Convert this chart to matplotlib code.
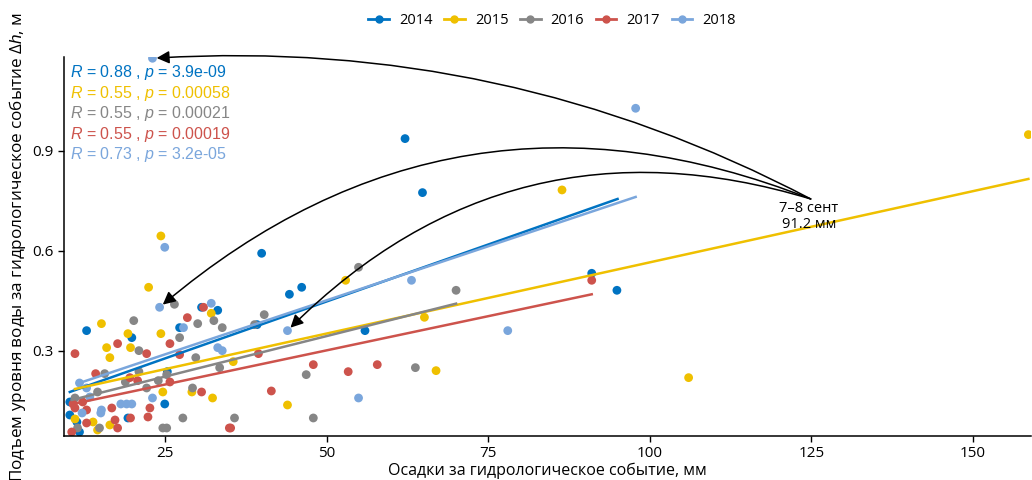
import numpy as np
import matplotlib
matplotlib.use('Agg')
import matplotlib.pyplot as plt
from matplotlib.lines import Line2D

plt.rcParams['font.family'] = ['Open Sans', 'DejaVu Sans']
plt.rcParams['mathtext.fontset'] = 'custom'
plt.rcParams['mathtext.rm'] = 'Liberation Sans'
plt.rcParams['mathtext.it'] = 'Liberation Sans:italic'

years = ['2014', '2015', '2016', '2017', '2018']
colors = ['#0073C2', '#EFC000', '#868686', '#CD534C', '#7AA6DC']

# осадки (мм) и подъем уровня (м) по годам
x_2014 = [62.1, 64.8, 39.9, 46.1, 44.2, 91.0, 94.9, 55.9, 30.6, 33.1, 12.8, 19.8, 27.2,
          25.3, 24.9, 19.2, 10.2, 10.2, 11.3, 11.7, 39.2]
y_2014 = [0.936, 0.774, 0.592, 0.490, 0.469, 0.532, 0.481, 0.360, 0.430, 0.421, 0.360, 0.339, 0.369,
          0.237, 0.140, 0.098, 0.107, 0.146, 0.086, 0.056, 0.378]

x_2015 = [158.6, 86.4, 24.3, 52.9, 22.4, 65.1, 66.9, 106.0, 43.9, 32.3, 32.1, 15.1, 19.2, 24.3,
          15.9, 16.4, 19.6, 35.5, 24.6, 29.1, 16.4, 14.5, 13.8, 11.0]
y_2015 = [0.948, 0.782, 0.644, 0.511, 0.490, 0.400, 0.240, 0.219, 0.137, 0.158, 0.412, 0.381, 0.351, 0.351,
          0.309, 0.279, 0.309, 0.267, 0.176, 0.176, 0.077, 0.062, 0.086, 0.095]

x_2016 = [54.9, 70.0, 63.7, 46.8, 47.9, 35.7, 26.4, 20.1, 30.0, 32.5, 33.8, 27.2, 38.8, 40.3,
          20.9, 29.7, 33.4, 15.6, 20.9, 25.2, 23.9, 29.2, 14.5, 11.0, 27.7, 24.6, 25.2,
          11.4, 14.8, 22.1, 18.8]
y_2016 = [0.550, 0.481, 0.249, 0.228, 0.098, 0.098, 0.439, 0.390, 0.381, 0.390, 0.369, 0.339, 0.378, 0.408,
          0.300, 0.279, 0.249, 0.231, 0.237, 0.228, 0.210, 0.188, 0.176, 0.158, 0.098, 0.068, 0.068,
          0.068, 0.068, 0.188, 0.206]

x_2017 = [91.0, 47.9, 53.3, 57.8, 41.4, 34.9, 30.6, 30.9, 28.4, 25.7, 11.0, 17.6, 22.1, 27.2,
          39.4, 14.2, 19.5, 20.7, 25.7, 12.2, 11.0, 12.8, 16.7, 17.2, 17.6, 22.3, 22.6,
          12.8, 10.5, 35.1, 19.6, 10.7]
y_2017 = [0.511, 0.258, 0.237, 0.258, 0.179, 0.068, 0.176, 0.430, 0.399, 0.321, 0.291, 0.321, 0.291, 0.288,
          0.291, 0.231, 0.219, 0.210, 0.206, 0.146, 0.128, 0.122, 0.128, 0.092, 0.068, 0.101, 0.128,
          0.083, 0.056, 0.068, 0.098, 0.140]

x_2018 = [23.0, 97.8, 24.9, 63.1, 24.1, 43.9, 78.0, 54.9, 32.1, 27.8, 33.1, 33.8, 23.0,
          18.1, 19.0, 19.8, 15.1, 15.0, 12.1, 13.3, 12.8, 11.7]
y_2018 = [1.177, 1.027, 0.610, 0.511, 0.430, 0.360, 0.360, 0.158, 0.442, 0.369, 0.309, 0.300, 0.158,
          0.140, 0.140, 0.140, 0.122, 0.113, 0.113, 0.161, 0.188, 0.203]

xs = [x_2014, x_2015, x_2016, x_2017, x_2018]
ys = [y_2014, y_2015, y_2016, y_2017, y_2018]

# линии регрессии (начало и конец)
fit_x = [[10.2, 95.0], [11.0, 158.6], [10.5, 70.0], [10.7, 91.0], [11.7, 97.8]]
fit_y = [[0.176, 0.755], [0.185, 0.815], [0.152, 0.441], [0.140, 0.469], [0.203, 0.761]]

r_vals = ['0.88', '0.55', '0.55', '0.55', '0.73']
p_vals = ['3.9e-09', '0.00058', '0.00021', '0.00019', '3.2e-05']

# точки события 7-8 сентября
event_x = [23.0, 24.1, 43.9]
event_y = [1.177, 0.430, 0.360]
event_rad = [0.14, 0.3, 0.3]

fig = plt.figure(figsize=(10.32, 4.8), dpi=100)
ax = fig.add_axes([0.062, 0.0917, 0.937, 0.789])

for i in range(5):
    ax.scatter(xs[i], ys[i], s=40, color=colors[i], edgecolors='none', zorder=2)
for i in range(5):
    ax.plot(fit_x[i], fit_y[i], color=colors[i], lw=1.8, zorder=3)

for i in range(5):
    ax.text(0.006, 0.960 - i * 0.0545, f'$R$ = {r_vals[i]} , $p$ = {p_vals[i]}',
            transform=ax.transAxes, color=colors[i], fontsize=11.5,
            family='Liberation Sans', va='center', ha='left')

for ex, ey, rad in zip(event_x, event_y, event_rad):
    ax.annotate('', xy=(ex, ey), xytext=(124.9, 0.755),
                arrowprops=dict(arrowstyle='-|>', color='black', lw=1.1,
                                connectionstyle=f'arc3,rad={rad}',
                                shrinkA=0, shrinkB=3, mutation_scale=19), zorder=4)
ax.text(124.6, 0.703, '7–8 сент\n91.2 мм', ha='center', va='center', fontsize=10.5, linespacing=1.05)

ax.set_xlim(9.3, 159)
ax.set_ylim(0.044, 1.18)
ax.set_xticks([25, 50, 75, 100, 125, 150])
ax.set_yticks([0.3, 0.6, 0.9])
ax.spines['top'].set_visible(False)
ax.spines['right'].set_visible(False)
ax.spines['left'].set_linewidth(1.1)
ax.spines['bottom'].set_linewidth(1.1)
ax.tick_params(labelsize=11, length=4, width=1.0, colors='black')
ax.set_xlabel('Осадки за гидрологическое событие, мм', fontsize=11.5, labelpad=1)
ax.set_ylabel('Подъем уровня воды за гидрологическое событие Δ$h$, м', fontsize=12.3, labelpad=3)

handles = [Line2D([0], [0], color=c, lw=2, marker='o', markersize=5) for c in colors]
fig.legend(handles, years, loc='upper center', bbox_to_anchor=(0.535, 1.0), ncol=5,
           frameon=False, fontsize=10.5, handlelength=1.4, columnspacing=0.8, handletextpad=0.7)

plt.savefig('out.png', dpi=100)
